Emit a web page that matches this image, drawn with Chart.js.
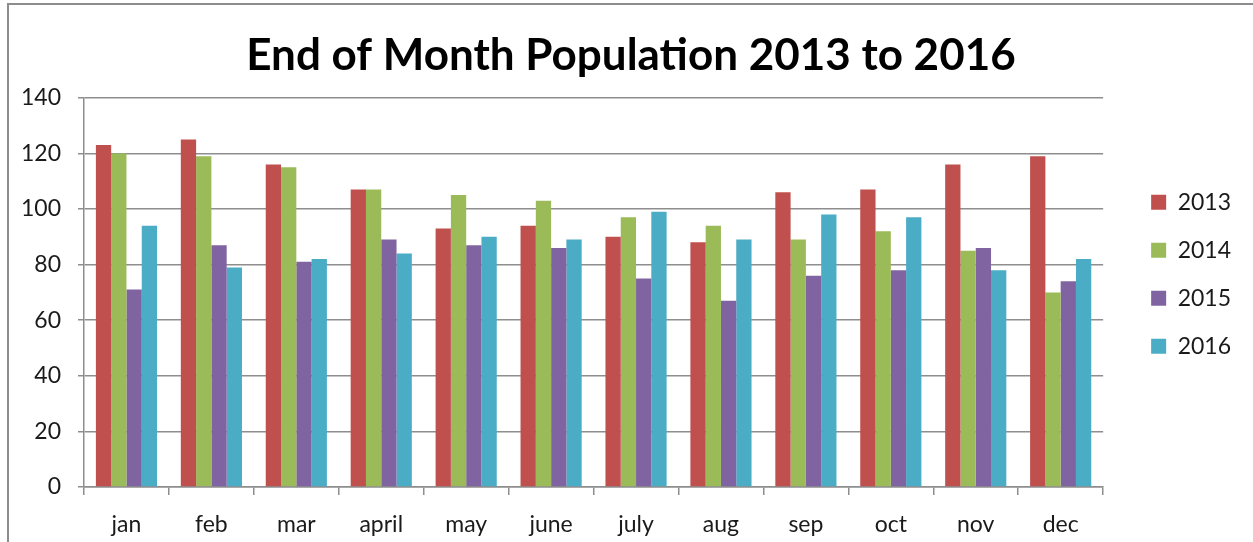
<!DOCTYPE html>
<html>
<head>
<meta charset="utf-8">
<script src="https://cdn.jsdelivr.net/npm/chart.js@4.4.1/dist/chart.umd.min.js"></script>
<style>
  html, body { margin: 0; padding: 0; background: #ffffff; }
  #wrap { position: relative; width: 1253px; height: 542px; overflow: hidden; background: #fff; }
  #frame { position: absolute; left: 7px; top: 3px; width: 1300px; height: 600px;
           border-top: 2px solid #8c8c8c; border-left: 2px solid #8c8c8c; box-sizing: border-box; pointer-events: none; }
  canvas { position: absolute; left: 0; top: 0; }
</style>
</head>
<body>
<div id="wrap">
  <canvas id="chart" width="1253" height="542"></canvas>
  <div id="frame"></div>
</div>
<script>
const categories = ["jan", "feb", "mar", "april", "may", "june", "july", "aug", "sep", "oct", "nov", "dec"];
const seriesNames = ["2013", "2014", "2015", "2016"];
const values2013 = [123, 125, 116, 107, 93, 94, 90, 88, 106, 107, 116, 119];
const values2014 = [120, 119, 115, 107, 105, 103, 97, 94, 89, 92, 85, 70];
const values2015 = [71, 87, 81, 89, 87, 86, 75, 67, 76, 78, 86, 74];
const values2016 = [94, 79, 82, 84, 90, 89, 99, 89, 98, 97, 78, 82];
const yTicks = [0, 20, 40, 60, 80, 100, 120, 140];
const chartTitle = "End of Month Population 2013 to 2016";

const seriesColors = ["#C0504D", "#9BBB59", "#8064A2", "#4BACC6"];
const allValues = [values2013, values2014, values2015, values2016];

const gridColor = "#8e8e8e";
const textColor = "#1a1a1a";

// place the legend to the right of the plot area and centre the title like the original
const boxPlacer = {
  id: "boxPlacer",
  afterLayout(chart) {
    const lg = chart.legend;
    if (lg) {
      const pad = lg.options.labels.padding;
      const w = lg.right - lg.left;
      const h = lg.bottom - lg.top;
      const newLeft = chart.chartArea.right + 23;
      const newTop = chart.chartArea.top + 93 - pad;
      lg.left = newLeft; lg.right = newLeft + w;
      lg.top = newTop; lg.bottom = newTop + h;
    }
    const tb = chart.titleBlock;
    if (tb) {
      const dx = 15;
      tb.left += dx; tb.right += dx;
    }
  }
};

new Chart(document.getElementById("chart"), {
  type: "bar",
  data: {
    labels: categories,
    datasets: seriesNames.map((name, i) => ({
      label: name,
      data: allValues[i],
      backgroundColor: seriesColors[i],
      borderWidth: 0,
      categoryPercentage: 0.72,
      barPercentage: 1.0
    }))
  },
  options: {
    responsive: false,
    animation: false,
    devicePixelRatio: 1,
    layout: { padding: { left: 14, right: 35, top: 0, bottom: 4 } },
    plugins: {
      title: {
        display: true,
        text: chartTitle,
        color: "#000000",
        font: { family: "Lato", size: 44, weight: "bold" },
        padding: { top: 29, bottom: 16 }
      },
      legend: {
        display: true,
        position: "right",
        align: "start",
        fullSize: false,
        labels: {
          boxWidth: 15,
          boxHeight: 15,
          padding: 25,
          color: textColor,
          font: { family: "Lato", size: 23 }
        }
      },
      tooltip: { enabled: false }
    },
    scales: {
      x: {
        afterFit(scale) { scale.height = 51; },
        grid: {
          display: true,
          drawOnChartArea: false,
          drawTicks: true,
          tickLength: 8,
          color: gridColor,
          lineWidth: 1.5
        },
        border: { display: true, color: gridColor, width: 1.5 },
        ticks: {
          color: textColor,
          padding: 16,
          font: { family: "Lato", size: 23 }
        }
      },
      y: {
        min: 0,
        max: 140,
        afterBuildTicks(scale) { scale.ticks = yTicks.map(v => ({ value: v })); },
        afterFit(scale) { scale.width = 70; },
        grid: {
          display: true,
          drawTicks: true,
          tickLength: 6,
          color: gridColor,
          lineWidth: 1.5
        },
        border: { display: true, color: gridColor, width: 1.5 },
        ticks: {
          color: textColor,
          padding: 17,
          font: { family: "Lato", size: 23 }
        }
      }
    }
  },
  plugins: [boxPlacer]
});
</script>
</body>
</html>
